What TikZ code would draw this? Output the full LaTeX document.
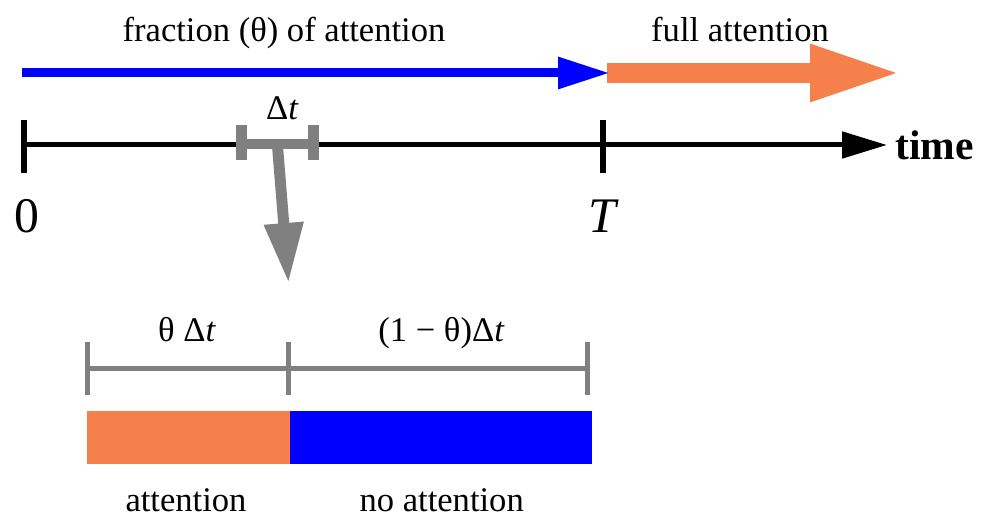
\documentclass[tikz,border=0pt]{standalone}
\usepackage{fontspec}
\newfontfamily\mainserif{Liberation Serif}
\usetikzlibrary{arrows.meta}
\definecolor{attorange}{RGB}{245,128,76}
\definecolor{attblue}{RGB}{0,0,255}
\definecolor{brgray}{RGB}{128,128,128}
\begin{document}
\begin{tikzpicture}[x=0.5pt,y=-0.5pt,
  lbl/.style={inner sep=0pt,anchor=base,font=\mainserif\LARGE},
  biglbl/.style={inner sep=0pt,anchor=base,font=\mainserif\Huge},
  tickline/.style={line width=3pt,line cap=butt},
  graybar/.style={brgray,line width=2.5pt,line cap=butt}]
\useasboundingbox (0,0) rectangle (987,517);
% top arrows
\coordinate (os) at (607,73);
\coordinate (oe) at (902,73);
\draw[attorange,line width=10pt,-{Triangle[length=46pt,width=26pt]}] (os) -- (oe);
\coordinate (bs) at (22,73);
\coordinate (bt) at (610,73);
\draw[attblue,line width=4.5pt,-{Triangle[length=26pt,width=15pt]}] (bs) -- (bt);
\node[lbl] (frac) at (284,42) {fraction (θ) of attention};
\node[lbl] (full) at (740,42) {full attention};
% time axis
\coordinate (t0) at (21,145);
\coordinate (tend) at (887,145);
\draw[line width=2.5pt,-{Triangle[length=22.5pt,width=13pt]}] (t0) -- (tend);
\coordinate (z1) at (24,120); \coordinate (z2) at (24,173);
\coordinate (T1) at (602.5,120); \coordinate (T2) at (602.5,173);
\draw[tickline] (z1) -- (z2);
\draw[tickline] (T1) -- (T2);
\node[inner sep=0pt,anchor=base west,font=\mainserif\huge\bfseries] (time) at (895,160) {time};
\node[biglbl] (zero) at (27,233) {0};
\node[biglbl] (T) at (604,233) {\textit{T}};
% delta t bracket
\coordinate (d1) at (241.5,144); \coordinate (d2) at (313.5,144);
\draw[brgray,line width=5pt] (d1) -- (d2);
\draw[brgray,line width=5.5pt] (241.5,125) -- (241.5,160);
\draw[brgray,line width=5.5pt] (313.5,125) -- (313.5,160);
\node[lbl] (dt) at (282.5,120) {Δ\textit{t}};
\coordinate (g1) at (277.5,146);
\coordinate (g2) at (288.5,283);
\draw[brgray,line width=5.5pt,-{Triangle[length=30pt,width=18.5pt]}] (g1) -- (g2);
% lower bracket
\coordinate (l1) at (87,369); \coordinate (l2) at (288,369); \coordinate (l3) at (587,369);
\draw[graybar] (l1) -- (l3);
\draw[graybar] (87,342) -- (87,395);
\draw[graybar] (288,342) -- (288,395);
\draw[graybar] (587,342) -- (587,395);
\node[lbl] (tdt) at (187,342) {θ Δ\textit{t}};
\node[lbl] (otdt) at (441.5,342) {(1 − θ)Δ\textit{t}};
% bars
\fill[attorange] (87,411.5) rectangle (290,464);
\fill[attblue] (290,411.5) rectangle (592,464);
\node[lbl] (att) at (186,512) {attention};
\node[lbl] (noatt) at (441.7,512) {no attention};
\end{tikzpicture}
\end{document}
